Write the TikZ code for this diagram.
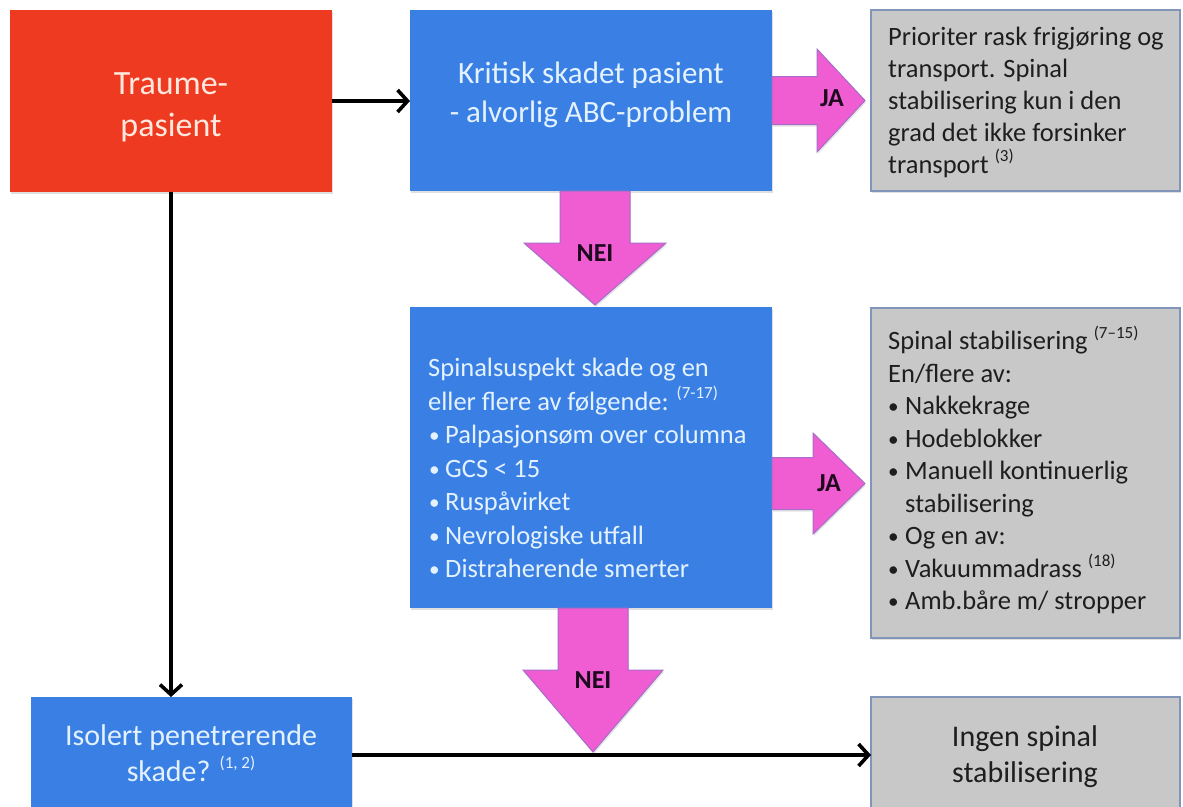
\documentclass[tikz,border=0pt]{standalone}
\usepackage{fontspec}
\usepackage{graphicx}
\setmainfont{Carlito}
\usetikzlibrary{arrows.meta,shadows,calc}
\definecolor{redbox}{RGB}{238,58,32}
\definecolor{bluebox}{RGB}{58,128,228}
\definecolor{graybox}{RGB}{200,200,200}
\definecolor{grayborder}{RGB}{128,150,184}
\definecolor{pinkfill}{RGB}{240,92,210}
\definecolor{pinkborder}{RGB}{165,110,200}
\definecolor{bluetext}{RGB}{228,242,255}
\definecolor{redtext}{RGB}{255,232,222}
\definecolor{graytext}{RGB}{30,30,30}
\definecolor{lbltext}{RGB}{30,10,30}
\newcommand\supr[2]{\raisebox{0.42em}{\fontsize{#1}{#1}\selectfont #2}}
\newcommand\bul{\raisebox{0.04em}{\scalebox{0.8}{•}}}
\begin{document}
\begin{tikzpicture}[x=1pt,y=-1pt,
  boxbase/.style={rectangle, anchor=north west, inner sep=0pt, outer sep=0pt, align=center,
    drop shadow={opacity=0.25, shadow xshift=1pt, shadow yshift=-2pt}},
  redbx/.style={boxbase, fill=redbox},
  bluebx/.style={boxbase, fill=bluebox},
  graybx/.style={boxbase, fill=graybox, draw=grayborder, line width=1.2pt, text=graytext, font=\fontsize{30}{36}\selectfont},
  boxtxt/.style={anchor=west, inner sep=0pt, align=left},
  ctrtxt/.style={inner sep=0pt, align=center},
  conn/.style={line width=3.6pt, -{Straight Barb[length=10pt,width=22pt,line width=3.6pt]}},
  pinkarrow/.style={fill=pinkfill, draw=pinkborder, line width=1pt,
    drop shadow={opacity=0.2, shadow xshift=1pt, shadow yshift=-2pt}},
  lbl/.style={inner sep=0pt, text=lbltext, font=\fontsize{26}{26}\selectfont\bfseries},
  pics/rarrow/.style args={#1/#2/#3/#4}{code={
    \path[pinkarrow] (0,-#2) -- (#1,-#2) -- (#1,-#3) -- (#1+#4,0) -- (#1,#3) -- (#1,#2) -- (0,#2) -- cycle;}},
  pics/darrow/.style args={#1/#2/#3/#4}{code={
    \path[pinkarrow] (-#2,0) -- (-#2,#1) -- (-#3,#1) -- (0,#1+#4) -- (#3,#1) -- (#2,#1) -- (#2,0) -- cycle;}}
]
\useasboundingbox (0,0) rectangle (1183,806);
\fill[white] (0,0) rectangle (1183,806);

% boxes
\node[redbx, minimum width=322pt, minimum height=182pt] (red) at (10,10) {};
\node[ctrtxt, text=redtext, font=\fontsize{34}{42}\selectfont] (redt) at (171,107) {Traume-\\pasient};

\node[bluebx, minimum width=362pt, minimum height=181pt] (b1) at (410,10) {};
\node[ctrtxt, text=bluetext, font=\fontsize{31}{39}\selectfont] (b1t) at (591,95) {Kritisk skadet pasient\\- alvorlig ABC-problem};

\node[graybx, minimum width=309pt, minimum height=181pt] (g1) at (871,10) {};
\node[boxtxt, text=graytext, font=\fontsize{26.5}{32}\selectfont] (g1t) at (888,102)
  {Prioriter rask frigjøring og\\transport. Spinal\\stabilisering kun i den\\grad det ikke forsinker\\transport \supr{17}{(3)}};

\node[bluebx, minimum width=362pt, minimum height=301pt] (b2) at (410,307) {};
\node[boxtxt, text=bluetext, font=\fontsize{26.5}{33.5}\selectfont] (b2t) at (428,468)
  {Spinalsuspekt skade og en\\
   eller flere av følgende: \supr{17}{(7-17)}\\
   \hspace*{1pt}\makebox[16pt][l]{\bul}Palpasjonsøm over columna\\
   \hspace*{1pt}\makebox[16pt][l]{\bul}GCS < 15\\
   \hspace*{1pt}\makebox[16pt][l]{\bul}Ruspåvirket\\
   \hspace*{1pt}\makebox[16pt][l]{\bul}Nevrologiske utfall\\
   \hspace*{1pt}\makebox[16pt][l]{\bul}Distraherende smerter};

\node[graybx, minimum width=309pt, minimum height=330pt] (g2) at (871,308) {};
\node[boxtxt, text=graytext, font=\fontsize{26.5}{32.5}\selectfont] (g2t) at (888,470)
  {Spinal stabilisering \supr{17}{(7–15)}\\
   En/flere av:\\
   \makebox[17pt][l]{\bul}Nakkekrage\\
   \makebox[17pt][l]{\bul}Hodeblokker\\
   \makebox[17pt][l]{\bul}Manuell kontinuerlig\\
   \hspace*{17pt}stabilisering\\
   \makebox[17pt][l]{\bul}Og en av:\\
   \makebox[17pt][l]{\bul}Vakuummadrass \supr{17}{(18)}\\
   \makebox[17pt][l]{\bul}Amb.båre m/ stropper};

\node[bluebx, minimum width=321pt, minimum height=116pt] (b3) at (31,697) {};
\node[ctrtxt, text=bluetext, font=\fontsize{30}{36}\selectfont] (b3t) at (191,753)
  {Isolert penetrerende\\skade? \supr{17}{(1, 2)}};
\node[graybx, minimum width=309pt, minimum height=116pt] (g3) at (871,697) {};
\node[ctrtxt, text=graytext, font=\fontsize{30}{36}\selectfont] (g3t) at (1025,757)
  {Ingen spinal\\stabilisering};

% black connectors
\draw[conn] (red.east) -- (red.east -| b1.west);
\draw[conn] (red.south) -- (red.south |- b3.north);
\draw[conn] (b3.east) -- (b3.east -| g3.west);

% pink block arrows
\pic at (b1.east) {rarrow={45/24/51.5/48}};
\node[lbl] (ja1) at (832,98) {JA};
\pic at ($(b1.south)+(4,0)$) {darrow={52/35/71/62}};
\node[lbl] (nei1) at (595,253) {NEI};
\pic at ($(b2.east)+(0,26)$) {rarrow={41/26/50.5/52}};
\node[lbl] (ja2) at (829,483) {JA};
\pic at ($(b2.south)+(2,0)$) {darrow={62/35/70/82}};
\node[lbl] (nei2) at (593,680) {NEI};
\end{tikzpicture}
\end{document}
